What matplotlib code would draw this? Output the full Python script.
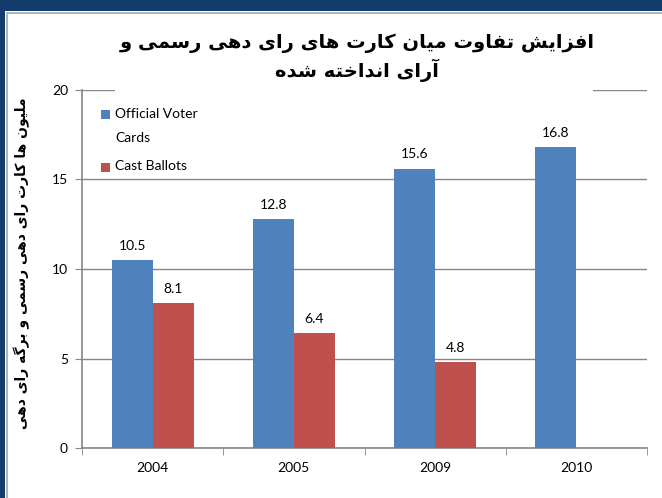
import matplotlib
matplotlib.use("Agg")
import matplotlib.pyplot as plt
from matplotlib.patches import Rectangle
import numpy as np

# ---------------- data ----------------
categories = ["2004", "2005", "2009", "2010"]
official_cards = [10.5, 12.8, 15.6, 16.8]
cast_ballots = [8.1, 6.4, 4.8, None]
series_names = ["Official Voter\nCards", "Cast Ballots"]
y_ticks = [0, 5, 10, 15, 20]
title_lines = ["افزایش تفاوت میان کارت های رای دهی رسمی و", "آرای انداخته شده"]
y_label = "ملیون ها کارت رای دهی رسمی و برگه رای دهی"

BLUE = "#4F81BD"
RED = "#C0504D"
GRID = "#868686"

# ------------- minimal Arabic/Persian shaping -------------
FORMS = {
    "\u0627": ("\uFE8D", "\uFE8E", None, None),
    "\u0622": ("\uFE81", "\uFE82", None, None),
    "\u0628": ("\uFE8F", "\uFE90", "\uFE91", "\uFE92"),
    "\u062A": ("\uFE95", "\uFE96", "\uFE97", "\uFE98"),
    "\u062E": ("\uFEA5", "\uFEA6", "\uFEA7", "\uFEA8"),
    "\u062F": ("\uFEA9", "\uFEAA", None, None),
    "\u0631": ("\uFEAD", "\uFEAE", None, None),
    "\u0632": ("\uFEAF", "\uFEB0", None, None),
    "\u0633": ("\uFEB1", "\uFEB2", "\uFEB3", "\uFEB4"),
    "\u0634": ("\uFEB5", "\uFEB6", "\uFEB7", "\uFEB8"),
    "\u0641": ("\uFED1", "\uFED2", "\uFED3", "\uFED4"),
    "\u06A9": ("\uFB8E", "\uFB8F", "\uFB90", "\uFB91"),
    "\u06AF": ("\uFB92", "\uFB93", "\uFB94", "\uFB95"),
    "\u0644": ("\uFEDD", "\uFEDE", "\uFEDF", "\uFEE0"),
    "\u0645": ("\uFEE1", "\uFEE2", "\uFEE3", "\uFEE4"),
    "\u0646": ("\uFEE5", "\uFEE6", "\uFEE7", "\uFEE8"),
    "\u0647": ("\uFEE9", "\uFEEA", "\uFEEB", "\uFEEC"),
    "\u0648": ("\uFEED", "\uFEEE", None, None),
    "\u06CC": ("\uFBFC", "\uFBFD", "\uFBFE", "\uFBFF"),
}


def shape(text):
    out = []
    n = len(text)
    for i, ch in enumerate(text):
        if ch not in FORMS:
            out.append(ch)
            continue
        f = FORMS[ch]
        prev = text[i - 1] if i > 0 else None
        nxt = text[i + 1] if i < n - 1 else None
        joins_prev = prev in FORMS and FORMS[prev][2] is not None
        joins_next = f[2] is not None and nxt in FORMS
        if joins_prev and joins_next:
            out.append(f[3])
        elif joins_prev:
            out.append(f[1])
        elif joins_next:
            out.append(f[2])
        else:
            out.append(f[0])
    return "".join(out)[::-1]


LATIN = "Lato"
ARAB = ["DejaVu Sans"]
FS = 10

fig = plt.figure(figsize=(6.62, 4.98), dpi=100)
fig.patch.set_facecolor("white")

# slide frame
fig.patches.append(Rectangle((0, 1 - 11 / 498), 1, 11 / 498, transform=fig.transFigure,
                             facecolor="#133C6B", edgecolor="none", zorder=5))
fig.patches.append(Rectangle((0, 0), 4.5 / 662, 1, transform=fig.transFigure,
                             facecolor="#133C6B", edgecolor="none", zorder=5))
fig.patches.append(Rectangle((6 / 662, 0), 2 / 662, 1 - 12 / 498, transform=fig.transFigure,
                             facecolor="#B4B4B4", edgecolor="none", zorder=5))
fig.patches.append(Rectangle((6 / 662, 1 - 14 / 498), 1, 2 / 498, transform=fig.transFigure,
                             facecolor="#B4B4B4", edgecolor="none", zorder=5))

ax = fig.add_axes([82 / 662, 1 - 448 / 498, (647 - 82) / 662, (448 - 90) / 498])

x = np.arange(len(categories))
w = 0.29
ax.bar(x - w / 2, official_cards, width=w, color=BLUE, zorder=3)
cb_x = [xi for xi, v in zip(x, cast_ballots) if v is not None]
cb_v = [v for v in cast_ballots if v is not None]
ax.bar(np.array(cb_x) + w / 2, cb_v, width=w, color=RED, zorder=3)

for xi, v in zip(x, official_cards):
    ax.annotate(f"{v}", (xi - w / 2, v), xytext=(0, 6), textcoords="offset points",
                ha="center", va="bottom", fontsize=FS, family=LATIN, color="black")
for xi, v in zip(cb_x, cb_v):
    ax.annotate(f"{v}", (xi + w / 2, v), xytext=(0, 6), textcoords="offset points",
                ha="center", va="bottom", fontsize=FS, family=LATIN, color="black")

ax.set_xlim(-0.5, len(categories) - 0.5)
ax.set_ylim(0, 20)
ax.set_yticks(y_ticks)
ax.set_yticklabels([str(t) for t in y_ticks], family=LATIN, fontsize=FS)
ax.set_xticks(x)
ax.set_xticklabels(categories, family=LATIN, fontsize=FS)
ax.set_xticks(np.arange(len(categories) + 1) - 0.5, minor=True)
ax.tick_params(axis="x", which="major", length=0, pad=10)
ax.tick_params(axis="x", which="minor", length=5, color=GRID, direction="out")
ax.tick_params(axis="y", length=5, color=GRID, direction="out", pad=5)
ax.yaxis.grid(True, color=GRID, linewidth=1, zorder=0)
ax.set_axisbelow(True)
for s in ["top", "right"]:
    ax.spines[s].set_visible(False)
for s in ["left", "bottom"]:
    ax.spines[s].set_color(GRID)
    ax.spines[s].set_linewidth(1.2)

# legend (manual, Excel style)
ax.add_patch(Rectangle((0.005, 0.775), 0.38, 0.215, transform=ax.transAxes,
                       facecolor="white", edgecolor="none", zorder=4))
leg_colors = [BLUE, RED]
leg_y = [1 - (115 - 90) / 358, 1 - (168 - 90) / 358]
for c, ly, name in zip(leg_colors, leg_y, series_names):
    ax.add_patch(Rectangle(((101 - 82) / 565, ly - 4.5 / 358), 9 / 565, 9 / 358,
                           transform=ax.transAxes, facecolor=c, edgecolor="none", zorder=5))
    ax.text((115 - 82) / 565, ly + 7.5 / 358, name, transform=ax.transAxes, ha="left", va="top",
            fontsize=FS, family=LATIN, linespacing=2.25, zorder=6)

# title box hiding gridline
fig.patches.append(Rectangle((115 / 662, 1 - 95 / 498), (593 - 115) / 662, 75 / 498,
                             transform=fig.transFigure, facecolor="white", edgecolor="none", zorder=2))
fig.text(357 / 662, 1 - 43 / 498, shape(title_lines[0]), ha="center", va="center",
         fontsize=14, fontweight="bold", family=ARAB, zorder=6)
fig.text(357 / 662, 1 - 70 / 498, shape(title_lines[1]), ha="center", va="center",
         fontsize=14, fontweight="bold", family=ARAB, zorder=6)

fig.text(22 / 662, 1 - 263 / 498, shape(y_label), rotation=90, ha="center", va="center",
         fontsize=10, fontweight="bold", family=ARAB, zorder=6)

fig.savefig("out.png", dpi=100)
